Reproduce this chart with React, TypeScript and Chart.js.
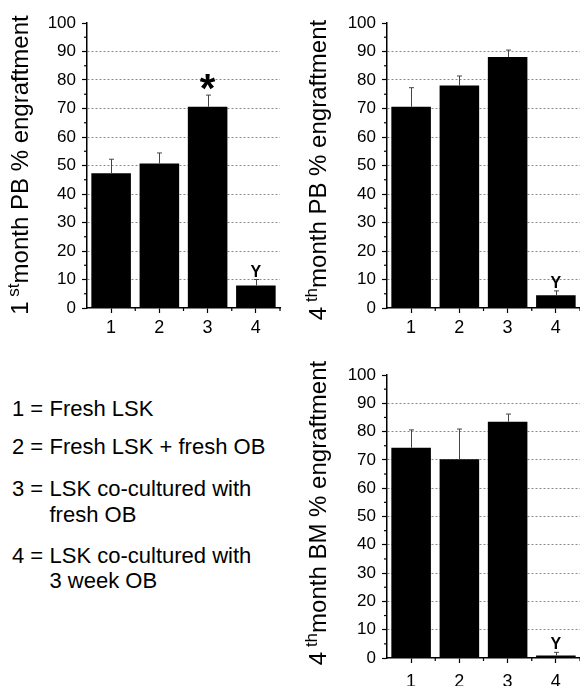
import React, { useEffect, useRef } from 'react';
import { Chart, registerables } from 'chart.js';

Chart.register(...registerables);

const FONT = '"Liberation Sans", Arial, Helvetica, sans-serif';

// ---- data ----
const categories = ['1', '2', '3', '4'];
const minorYTicks = [5, 15, 25, 35, 45, 55, 65, 75, 85, 95];

const pb1Values = [47.3, 50.7, 70.6, 7.9];
const pb1Errors = [4.9, 3.7, 4.1, 2.1];
const pb1Marks = ['', '', '*', 'Y'];

const pb4Values = [70.6, 78.1, 88.1, 4.5];
const pb4Errors = [6.7, 3.3, 2.4, 1.5];
const pb4Marks = ['', '', '', 'Y'];

const bm4Values = [74.3, 70.2, 83.5, 0.9];
const bm4Errors = [6.3, 10.7, 2.7, 1.1];
const bm4Marks = ['', '', '', 'Y'];

const titlePB1 = ['1', ' st', 'month PB % engraftment'];
const titlePB4 = ['4', ' th', 'month PB % engraftment'];
const titleBM4 = ['4', ' th', 'month BM % engraftment'];

const legendNumbers = ['1', '2', '3', '4'];
const legendLines = [
  ['Fresh LSK'],
  ['Fresh LSK + fresh OB'],
  ['LSK co-cultured with', 'fresh OB'],
  ['LSK co-cultured with', '3 week OB'],
];

// ---- styles ----
const markStyle: Record<string, { size: number; gap: number }> = {
  '*': { size: 40, gap: 5 },
  Y: { size: 16, gap: 3 },
};

type PanelCfg = {
  values: number[];
  errors: number[];
  marks: string[];
  title: string[];
  left: number;
  top: number;
  width: number;
  height: number;
  yWidth: number;
  padTop: number;
  padRight: number;
  xHeight: number;
  xLabelPad: number;
  titleX: number;
  titleCenterY: number;
};

function makeDecor(cfg: PanelCfg) {
  return {
    id: 'decor',
    afterDatasetsDraw(chart: any) {
      const ctx = chart.ctx as CanvasRenderingContext2D;
      const xs = chart.scales.x;
      const ys = chart.scales.y;
      const area = chart.chartArea;
      const meta = chart.getDatasetMeta(0);
      const values = chart.data.datasets[0].data as number[];
      ctx.save();
      ctx.strokeStyle = '#000';
      ctx.lineWidth = 1.2;
      minorYTicks.forEach((v) => {
        const py = ys.getPixelForValue(v);
        ctx.beginPath();
        ctx.moveTo(area.left - 3, py);
        ctx.lineTo(area.left, py);
        ctx.stroke();
      });
      categories.forEach((_, i) => {
        const px = xs.getPixelForValue(i + 0.5);
        ctx.beginPath();
        ctx.moveTo(px, area.bottom);
        ctx.lineTo(px, area.bottom + 3);
        ctx.stroke();
      });
      meta.data.forEach((bar: any, i: number) => {
        const px = Math.round(bar.x) + 0.5;
        const topPx = ys.getPixelForValue(values[i] + cfg.errors[i]);
        const basePx = ys.getPixelForValue(values[i]);
        ctx.strokeStyle = '#444';
        ctx.lineWidth = 1;
        ctx.beginPath();
        ctx.moveTo(px, basePx);
        ctx.lineTo(px, topPx);
        ctx.moveTo(px - 2.5, topPx);
        ctx.lineTo(px + 2.5, topPx);
        ctx.stroke();
        const mark = cfg.marks[i];
        if (mark) {
          const st = markStyle[mark] || { size: 16, gap: 3 };
          ctx.font = `bold ${st.size}px ${FONT}`;
          ctx.fillStyle = '#000';
          ctx.textAlign = 'center';
          ctx.textBaseline = 'alphabetic';
          const m = ctx.measureText(mark);
          const descent = m.actualBoundingBoxDescent || 0;
          const baseline = topPx - st.gap - descent;
          ctx.fillText(mark, bar.x, baseline);
        }
      });
      ctx.restore();
    },
    afterDraw(chart: any) {
      const ctx = chart.ctx as CanvasRenderingContext2D;
      const segs = [
        { text: cfg.title[0], size: 24, raise: 0 },
        { text: cfg.title[1], size: 17, raise: 9 },
        { text: cfg.title[2], size: 24, raise: 0 },
      ];
      ctx.save();
      ctx.fillStyle = '#000';
      ctx.textAlign = 'left';
      ctx.textBaseline = 'alphabetic';
      let total = 0;
      const widths = segs.map((s) => {
        ctx.font = `${s.size}px ${FONT}`;
        const w = ctx.measureText(s.text).width;
        total += w;
        return w;
      });
      ctx.translate(cfg.titleX, cfg.titleCenterY);
      ctx.rotate(-Math.PI / 2);
      let cursor = -total / 2;
      segs.forEach((s, i) => {
        ctx.font = `${s.size}px ${FONT}`;
        ctx.fillText(s.text, cursor, -s.raise);
        cursor += widths[i];
      });
      ctx.restore();
    },
  };
}

function Panel(cfg: PanelCfg) {
  const ref = useRef<HTMLCanvasElement | null>(null);
  useEffect(() => {
    if (!ref.current) return;
    const chart = new Chart(ref.current, {
      type: 'bar',
      data: {
        labels: categories,
        datasets: [
          {
            data: cfg.values,
            backgroundColor: '#000',
            borderWidth: 0,
            barPercentage: 0.82,
            categoryPercentage: 1,
          },
        ],
      },
      options: {
        animation: false,
        responsive: false,
        events: [],
        layout: { padding: { top: cfg.padTop, right: cfg.padRight, left: 0, bottom: 0 } },
        plugins: { legend: { display: false }, tooltip: { enabled: false } },
        scales: {
          x: {
            grid: {
              offset: false,
              drawOnChartArea: false,
              color: '#000',
              tickColor: '#000',
              tickLength: 5,
              tickWidth: 1.2,
            },
            border: { color: '#000', width: 1.5 },
            ticks: { font: { size: 18, family: FONT }, color: '#000', padding: cfg.xLabelPad },
            afterFit: (s: any) => {
              s.height = cfg.xHeight;
              s.paddingLeft = 0;
              s.paddingRight = 0;
            },
          },
          y: {
            min: 0,
            max: 100,
            ticks: { stepSize: 10, font: { size: 17, family: FONT }, color: '#000', padding: 6 },
            grid: {
              color: (c: any) =>
                c.tick && c.tick.value > 0 && c.tick.value < 100 ? '#8a8a8a' : 'rgba(0,0,0,0)',
              lineWidth: 1,
              tickColor: '#000',
              tickLength: 5,
              tickWidth: 1.2,
            },
            border: { color: '#000', width: 1.5, dash: [2, 2] },
            afterFit: (s: any) => {
              s.width = cfg.yWidth;
              s.paddingTop = 0;
              s.paddingBottom = 0;
            },
          },
        },
      } as any,
      plugins: [makeDecor(cfg)],
    });
    return () => chart.destroy();
  }, []);
  return (
    <canvas
      ref={ref}
      width={cfg.width}
      height={cfg.height}
      style={{ position: 'absolute', left: cfg.left, top: cfg.top, display: 'block' }}
    />
  );
}

const legendTops = [396, 434.3, 476, 542.6];

export default function App() {
  return (
    <div
      style={{
        position: 'absolute',
        left: 0,
        top: 0,
        width: 580,
        height: 686,
        overflow: 'hidden',
        background: '#fff',
        fontFamily: FONT,
      }}
    >
      <Panel
        values={pb1Values}
        errors={pb1Errors}
        marks={pb1Marks}
        title={titlePB1}
        left={0}
        top={0}
        width={290}
        height={345}
        yWidth={87}
        padTop={23}
        padRight={10}
        xHeight={37}
        xLabelPad={4}
        titleX={28}
        titleCenterY={165}
      />
      <Panel
        values={pb4Values}
        errors={pb4Errors}
        marks={pb4Marks}
        title={titlePB4}
        left={290}
        top={0}
        width={290}
        height={345}
        yWidth={97}
        padTop={23}
        padRight={0}
        xHeight={37}
        xLabelPad={4}
        titleX={36}
        titleCenterY={170}
      />
      <Panel
        values={bm4Values}
        errors={bm4Errors}
        marks={bm4Marks}
        title={titleBM4}
        left={290}
        top={345}
        width={290}
        height={341}
        yWidth={97}
        padTop={30}
        padRight={0}
        xHeight={28}
        xLabelPad={8}
        titleX={36}
        titleCenterY={168}
      />
      {legendNumbers.map((n, i) => (
        <div
          key={n}
          style={{
            position: 'absolute',
            left: 12,
            top: legendTops[i],
            fontSize: 22,
            lineHeight: '25.6px',
            color: '#000',
            display: 'flex',
          }}
        >
          <span style={{ width: 37.5, whiteSpace: 'pre' }}>{`${n} = `}</span>
          <span>
            {legendLines[i].map((line, j) => (
              <div key={j} style={{ whiteSpace: 'nowrap' }}>
                {line}
              </div>
            ))}
          </span>
        </div>
      ))}
    </div>
  );
}
